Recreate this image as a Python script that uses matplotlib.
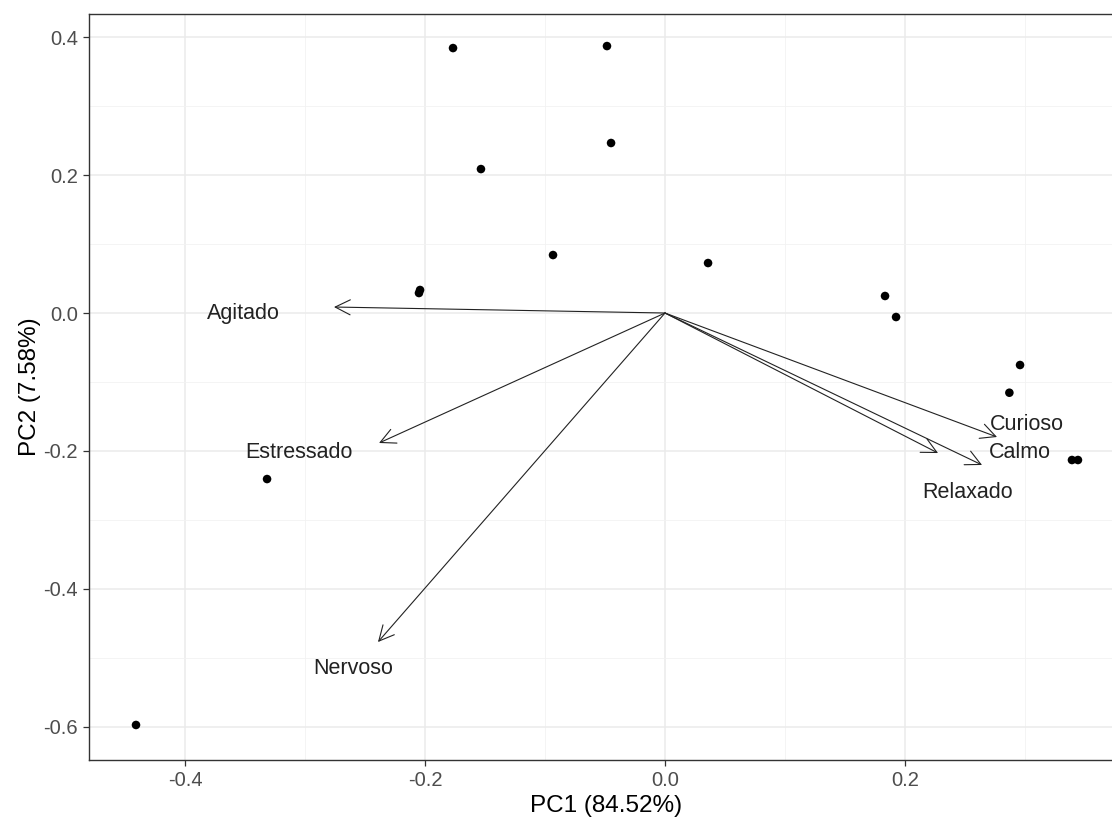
import matplotlib
matplotlib.use("Agg")
import matplotlib.pyplot as plt
from matplotlib.patches import ArrowStyle
from matplotlib.ticker import MultipleLocator, FixedLocator

plt.rcParams['font.family'] = ['Liberation Sans', 'DejaVu Sans']

# PCA scores (observations)
pc1_scores = [-0.1768, -0.0484, -0.0450, -0.1535, -0.0934, -0.2043, -0.2052, 0.0359,
              0.1835, 0.1927, 0.2961, 0.2872, 0.3394, 0.3444, -0.3319, -0.4412]
pc2_scores = [0.3843, 0.3872, 0.2466, 0.2088, 0.0841, 0.0334, 0.0290, 0.0725,
              0.0247, -0.0058, -0.0754, -0.1156, -0.2132, -0.2132, -0.2408, -0.5975]

# Variable loadings
variables = ['Agitado', 'Estressado', 'Nervoso', 'Relaxado', 'Calmo', 'Curioso']
load_pc1 = [-0.2761, -0.2385, -0.2394, 0.2277, 0.2644, 0.2769]
load_pc2 = [0.0087, -0.1885, -0.4772, -0.2031, -0.2204, -0.1798]

# Where each loading label sits
label_pc1 = [-0.3515, -0.3053, -0.2602, 0.2527, 0.2961, 0.3019]
label_pc2 = [0.0000, -0.2030, -0.5149, -0.2596, -0.2030, -0.1624]

xlabel = 'PC1 (84.52%)'
ylabel = 'PC2 (7.58%)'
x_ticks = [-0.4, -0.2, 0.0, 0.2]
y_ticks = [-0.6, -0.4, -0.2, 0.0, 0.2, 0.4]

fig = plt.figure(figsize=(11.12, 8.24), dpi=100)
ax = fig.add_axes([89 / 1112, 64 / 824, 1035 / 1112, 746 / 824])
ax.set_facecolor('white')

ax.set_xlim(-0.4804, 0.3828)
ax.set_ylim(-0.6483, 0.4337)

# theme_bw-like grid
ax.xaxis.set_major_locator(FixedLocator(x_ticks))
ax.yaxis.set_major_locator(FixedLocator(y_ticks))
ax.xaxis.set_minor_locator(MultipleLocator(0.1))
ax.yaxis.set_minor_locator(MultipleLocator(0.1))
ax.grid(which='major', color='#EBEBEB', lw=1.1, zorder=0)
ax.grid(which='minor', color='#F2F2F2', lw=0.6, zorder=0)
ax.set_axisbelow(True)
ax.set_xticklabels([f'{v:.1f}' for v in x_ticks])
ax.set_yticklabels([f'{v:.1f}' for v in y_ticks])
ax.tick_params(which='major', length=4, width=0.9, color='#333333',
               labelsize=14.5, labelcolor='#4D4D4D', pad=4)
ax.tick_params(which='minor', length=0)
for s in ax.spines.values():
    s.set_color('#333333')
    s.set_linewidth(1.0)

# Observations
ax.scatter(pc1_scores, pc2_scores, s=38, color='black', edgecolors='none', zorder=3)

# Loading arrows
head = ArrowStyle('->', head_length=0.6, head_width=0.3)
for name, lx, ly, tx, ty in zip(variables, load_pc1, load_pc2, label_pc1, label_pc2):
    ax.annotate('', xy=(lx, ly), xytext=(0, 0),
                arrowprops=dict(arrowstyle=head, mutation_scale=18, shrinkA=0, shrinkB=0,
                                lw=0.8, color='#222222'), zorder=4)
    ax.text(tx, ty, name, ha='center', va='center', fontsize=15.5, color='#222222', zorder=5)

ax.set_xlabel(xlabel, fontsize=17.5, color='black')
ax.set_ylabel(ylabel, fontsize=17.5, color='black')
ax.xaxis.set_label_coords((606.5 - 89) / 1035, -(795 - 760) / 746)
ax.yaxis.set_label_coords(-(89 - 41) / 1035, 0.5)

fig.savefig('out.png', dpi=100, facecolor='white')
